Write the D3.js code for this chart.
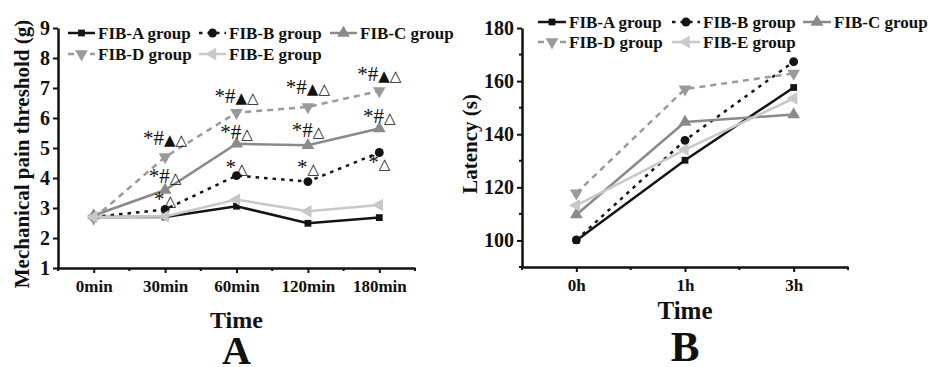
<!DOCTYPE html>
<html>
<head>
<meta charset="utf-8">
<script src="https://cdn.jsdelivr.net/npm/d3@7"></script>
<style>
  body { margin: 0; background: #fff; }
  svg { display: block; font-family: "Liberation Serif", "Times New Roman", serif; }
</style>
</head>
<body>
<svg id="chart" width="928" height="367"></svg>
<script>
// ---- data ----
const groups = ["FIB-A group", "FIB-B group", "FIB-C group", "FIB-D group", "FIB-E group"];

// panel A: mechanical pain threshold (g)
const timesA = ["0min", "30min", "60min", "120min", "180min"];
const thresholdFibA = [2.70, 2.70, 3.06, 2.49, 2.68];
const thresholdFibB = [2.70, 2.95, 4.08, 3.88, 4.85];
const thresholdFibC = [2.75, 3.60, 5.14, 5.09, 5.65];
const thresholdFibD = [2.65, 4.70, 6.18, 6.37, 6.90];
const thresholdFibE = [2.70, 2.72, 3.28, 2.89, 3.10];
const ticksA = [1, 2, 3, 4, 5, 6, 7, 8, 9];

// significance marks shown above the points (time, label, value level)
const marksA = [
  ["30min", "*#▲△", 5.29], ["30min", "*#△", 4.05], ["30min", "*△", 3.28],
  ["60min", "*#▲△", 6.69], ["60min", "*#△", 5.49], ["60min", "*△", 4.35],
  ["120min", "*#▲△", 6.99], ["120min", "*#△", 5.56], ["120min", "*△", 4.32],
  ["180min", "*#▲△", 7.43], ["180min", "*#△", 6.02], ["180min", "*△", 4.49]
];

// panel B: latency (s)
const timesB = ["0h", "1h", "3h"];
const latencyFibA = [100.0, 130.2, 157.6];
const latencyFibB = [100.2, 137.7, 167.3];
const latencyFibC = [109.7, 144.6, 147.4];
const latencyFibD = [117.8, 157.0, 162.9];
const latencyFibE = [113.2, 134.2, 153.5];
const ticksB = [100, 120, 140, 160, 180];
const minorTicksB = [90, 110, 130, 150, 170];

// ---- styles per group ----
const styles = [
  { color: "#141414", dash: null,  symbol: d3.symbolSquare,   size: 46, rotate: 0 },
  { color: "#141414", dash: "3.5,5", symbol: d3.symbolCircle, size: 62, rotate: 0 },
  { color: "#8a8a8a", dash: null,  symbol: d3.symbolTriangle, size: 70, rotate: 0 },
  { color: "#9a9a9a", dash: "6,5", symbol: d3.symbolTriangle, size: 70, rotate: 180 },
  { color: "#c8c8c8", dash: null,  symbol: d3.symbolTriangle, size: 70, rotate: -90 }
];

const svg = d3.select("#chart");
svg.append("rect").attr("width", 928).attr("height", 367).attr("fill", "#fff");

function drawPanel(cfg) {
  const g = svg.append("g");

  const x = d3.scalePoint().domain(cfg.times).range(cfg.xRange).padding(0.5);
  const y = d3.scaleLinear().domain(cfg.yDomain).range(cfg.yRange);

  // y axis
  const yAxis = g.append("g")
      .attr("transform", `translate(${cfg.xRange[0]},0)`)
      .call(d3.axisLeft(y).tickValues(cfg.yTicks).tickSize(5).tickSizeOuter(0).tickPadding(3));
  yAxis.select(".domain").attr("stroke-width", 2.5).attr("stroke", "#111");
  yAxis.selectAll(".tick line").attr("stroke-width", 2).attr("stroke", "#111");
  yAxis.selectAll(".tick text")
      .attr("font-family", "Liberation Serif").attr("font-weight", "bold")
      .attr("font-size", 20).attr("fill", "#111");
  if (cfg.yMinor) {
    g.selectAll(".yminor").data(cfg.yMinor).join("line")
        .attr("x1", cfg.xRange[0] - 3).attr("x2", cfg.xRange[0])
        .attr("y1", d => y(d)).attr("y2", d => y(d))
        .attr("stroke", "#111").attr("stroke-width", 2);
  }

  // x axis
  const xAxis = g.append("g")
      .attr("transform", `translate(0,${cfg.yRange[0]})`)
      .call(d3.axisBottom(x).tickSize(5).tickSizeOuter(0).tickPadding(7));
  xAxis.select(".domain").attr("stroke-width", 2.5).attr("stroke", "#111");
  xAxis.selectAll(".tick line").attr("stroke-width", 2).attr("stroke", "#111");
  xAxis.selectAll(".tick text")
      .attr("font-family", "Liberation Serif").attr("font-weight", "bold")
      .attr("font-size", 17).attr("fill", "#111");
  // minor ticks between categories
  const bounds = d3.range(cfg.times.length + 1).map(i => cfg.xRange[0] + i * x.step());
  g.selectAll(".xminor").data(bounds).join("line")
      .attr("x1", d => d).attr("x2", d => d)
      .attr("y1", cfg.yRange[0]).attr("y2", cfg.yRange[0] + 3)
      .attr("stroke", "#111").attr("stroke-width", 2);

  // axis titles
  const cx = (cfg.xRange[0] + cfg.xRange[1]) / 2;
  g.append("text")
      .attr("x", cx).attr("y", cfg.timeY)
      .attr("text-anchor", "middle")
      .attr("font-weight", "bold").attr("font-size", cfg.timeSize).attr("fill", "#111")
      .text("Time");
  g.append("text")
      .attr("x", cx).attr("y", cfg.letterY)
      .attr("text-anchor", "middle")
      .attr("font-weight", "bold").attr("font-size", cfg.letterSize).attr("fill", "#111")
      .text(cfg.letter);
  g.append("text")
      .attr("transform", `translate(${cfg.titleX},${cfg.titleY}) rotate(-90)`)
      .attr("text-anchor", "middle").attr("dominant-baseline", "central")
      .attr("font-weight", "bold").attr("font-size", 21).attr("fill", "#111")
      .text(cfg.yTitle);

  // lines + markers
  const line = d3.line().x((d, i) => x(cfg.times[i])).y(d => y(d));
  cfg.series.forEach((vals, k) => {
    const st = styles[k];
    g.append("path")
        .attr("d", line(vals))
        .attr("fill", "none").attr("stroke", st.color).attr("stroke-width", 2.5)
        .attr("stroke-dasharray", st.dash);
    g.selectAll(null).data(vals).join("path")
        .attr("d", d3.symbol().type(st.symbol).size(st.size))
        .attr("transform", (d, i) => `translate(${x(cfg.times[i])},${y(d)}) rotate(${st.rotate})`)
        .attr("fill", st.color);
  });

  // significance marks: * and # in serif, triangles in a sans font that has them
  if (cfg.marks) {
    const mt = g.selectAll(".mark").data(cfg.marks).join("text")
        .attr("class", "mark")
        .attr("x", d => x(d[0])).attr("y", d => y(d[2]) + 6)
        .attr("text-anchor", "middle")
        .attr("fill", "#111");
    mt.selectAll("tspan").data(d => Array.from(d[1])).join("tspan")
        .attr("font-family", c => "▲△".includes(c) ? "DejaVu Sans" : "Liberation Serif")
        .attr("font-size", c => "▲△".includes(c) ? 15 : 21)
        .text(c => c);
  }

  // legend (3 entries on first row, 2 on second)
  groups.forEach((name, k) => {
    const st = styles[k];
    const lx = cfg.legendX[k % 3];
    const ly = cfg.legendY[Math.floor(k / 3)];
    const lg = g.append("g");
    lg.append("line")
        .attr("x1", lx).attr("x2", lx + cfg.legendLen)
        .attr("y1", ly).attr("y2", ly)
        .attr("stroke", st.color).attr("stroke-width", 2.5)
        .attr("stroke-dasharray", st.dash);
    lg.append("path")
        .attr("d", d3.symbol().type(st.symbol).size(st.size))
        .attr("transform", `translate(${lx + cfg.legendLen / 2},${ly}) rotate(${st.rotate})`)
        .attr("fill", st.color);
    lg.append("text")
        .attr("x", lx + cfg.legendLen + 3).attr("y", ly)
        .attr("dominant-baseline", "central")
        .attr("font-weight", "bold").attr("font-size", 17).attr("fill", "#111")
        .text(name);
  });
}

drawPanel({
  times: timesA,
  series: [thresholdFibA, thresholdFibB, thresholdFibC, thresholdFibD, thresholdFibE],
  xRange: [58, 415], yRange: [268, 28], yDomain: [1, 9], yTicks: ticksA,
  yTitle: "Mechanical pain threshold (g)", titleX: 22, titleY: 154,
  timeY: 328, timeSize: 24, letterY: 364, letterSize: 40, letter: "A",
  marks: marksA,
  legendX: [68, 199, 330], legendY: [33, 54], legendLen: 27
});

drawPanel({
  times: timesB,
  series: [latencyFibA, latencyFibB, latencyFibC, latencyFibD, latencyFibE],
  xRange: [522, 848], yRange: [267, 28], yDomain: [90, 180], yTicks: ticksB, yMinor: minorTicksB,
  yTitle: "Latency (s)", titleX: 470, titleY: 144,
  timeY: 319, timeSize: 25, letterY: 361, letterSize: 43, letter: "B",
  legendX: [538, 672, 803], legendY: [22, 42], legendLen: 28
});
</script>
</body>
</html>
